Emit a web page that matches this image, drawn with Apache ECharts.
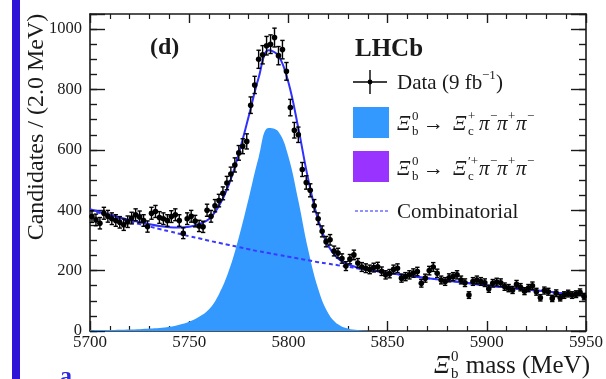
<!DOCTYPE html>
<html><head><meta charset="utf-8">
<script src="https://cdn.jsdelivr.net/npm/echarts@6/dist/echarts.min.js"></script>
<style>html,body{margin:0;padding:0;background:#fff;}#c{width:606px;height:379px;}</style>
</head><body><div id="c"></div>
<script>
// ---- data ----
const binStart = 5701;      // first bin centre (MeV)
const binWidth = 2;         // MeV
const dataCounts = [
 379,368,357,390,380,372,366,360,352,362,
 374,385,378,366,346,390,396,376,372,366,
 379,385,366,324,372,380,364,348,345,400,
 380,415,432,456,490,520,550,590,612,628,
 748,815,900,915,945,950,972,912,932,860,
 740,665,650,535,492,466,415,372,330,296,
 302,265,258,240,215,238,252,225,212,208,
 204,210,213,198,186,190,204,208,175,180,
 186,192,197,158,175,200,212,191,169,164,
 176,180,186,169,160,119,164,169,164,160,
 140,158,162,160,147,142,136,155,145,132,
 142,150,130,110,134,130,108,125,110,119,
 124,119,122,128,114
];
const curveStart = 5700, curveStep = 5;
const signalCurve = [
 2,3,3,4,5,6,8,10,14,21,
 31,47,72,122,200,310,440,575,672,660,
 578,432,268,140,60,22,8,3,1,0,
 0,0,0,0,0,0,0,0,0,0,
 0,0,0,0,0,0,0,0,0,0,0
];
const totalCurve = [
 403,394,385,376,368,361,354,348,344,343,
 345,354,371,414,485,588,711,839,930,912,
 824,672,502,368,283,240,221,210,203,198,
 193,188,184,179,175,171,167,163,159,155,
 151,147,144,140,137,134,131,127,124,121,118
];
const combCurve = [
 401,391,382,372,363,354,346,338,330,322,
 314,307,299,292,285,278,271,264,258,252,
 246,240,234,228,223,218,213,207,202,198,
 193,188,184,179,175,171,167,163,159,155,
 151,147,144,140,137,134,131,127,124,121,118
];
const xTicks = [5700, 5750, 5800, 5850, 5900, 5950];
const yTicks = [0, 200, 400, 600, 800, 1000];

// ---- build series data ----
const dataPts = dataCounts.map((v, i) => [binStart + i * binWidth, v, Math.sqrt(v)]);
const toCurve = arr => arr.map((v, i) => [curveStart + i * curveStep, v]);

const SERIF = 'Liberation Serif';
const ink = '#1a1a1a';
const chart = echarts.init(document.getElementById('c'), null, {renderer: 'canvas'});

function yAx(pos, interval, tickLen, labels, line) {
  return {
    type: 'value', position: pos, min: 0, max: 1050, interval: interval,
    axisLine: {show: line, lineStyle: {color: ink, width: 1.6}},
    axisTick: {show: true, inside: true, length: tickLen, lineStyle: {color: ink, width: 1.4}},
    axisLabel: {show: labels, fontFamily: SERIF, fontSize: 16.5, color: ink, margin: 8,
      formatter: v => (yTicks.indexOf(v) >= 0 ? String(v) : '')},
    splitLine: {show: false}
  };
}
function xAx(pos, tickLen, minorLen, labels) {
  return {
    type: 'value', position: pos, min: xTicks[0], max: xTicks[xTicks.length - 1], interval: 50,
    axisLine: {show: true, onZero: false, lineStyle: {color: ink, width: 1.6}},
    axisTick: {show: true, inside: true, length: tickLen, lineStyle: {color: ink, width: 1.4}},
    minorTick: {show: true, splitNumber: 5, length: minorLen, lineStyle: {color: ink, width: 1.2}},
    axisLabel: {show: labels, fontFamily: SERIF, fontSize: 17, color: ink, margin: 3,
      formatter: v => String(v)},
    splitLine: {show: false}
  };
}

const txt = (x, y, s, size, opts) => Object.assign({
  type: 'text', x: x, y: y, z: 100,
  style: Object.assign({text: s, fontFamily: SERIF, fontSize: size, fill: ink,
    textAlign: 'left', textVerticalAlign: 'middle'}, (opts && opts.style) || {})
}, opts && opts.el || {});
const it = {style: {fontStyle: 'italic'}};

function formula(y, supC) {
  const f = 21, s = 13;
  return [
    txt(397, y, 'Ξ', f, it),
    txt(412, y - 7, '0', s), txt(412, y + 8, 'b', s),
    txt(423, y, '→', f),
    txt(453, y, 'Ξ', f, it),
    txt(468, y - 7, supC, s), txt(468, y + 8, 'c', s),
    txt(479, y, 'π', f, it), txt(490, y - 7, '−', s),
    txt(497, y, 'π', f, it), txt(508, y - 7, '+', s),
    txt(516, y, 'π', f, it), txt(527, y - 7, '−', s)
  ];
}

const graphics = [
  {type: 'rect', shape: {x: 12, y: 0, width: 8, height: 379}, style: {fill: '#2e14d6'}, z: 100},
  txt(60, 377, 'a', 24, {style: {fill: '#2a2ae0', fontWeight: 'bold'}}),
  txt(150, 48, '(d)', 24, {style: {fontWeight: 'bold'}}),
  txt(355, 50, 'LHCb', 25, {style: {fontWeight: 'bold'}}),
  // data legend marker
  {type: 'line', shape: {x1: 353, y1: 82, x2: 387, y2: 82}, style: {stroke: '#000', lineWidth: 1.4}, z: 100},
  {type: 'line', shape: {x1: 370, y1: 70, x2: 370, y2: 94}, style: {stroke: '#000', lineWidth: 1.4}, z: 100},
  {type: 'circle', shape: {cx: 370, cy: 82, r: 2.4}, style: {fill: '#000'}, z: 100},
  txt(397, 83, 'Data (9 fb', 21),
  txt(482, 76, '−1', 13),
  txt(496, 83, ')', 21),
  // signal boxes
  {type: 'rect', shape: {x: 353, y: 107, width: 36, height: 31}, style: {fill: '#3399ff'}, z: 100},
  {type: 'rect', shape: {x: 353, y: 151, width: 36, height: 31}, style: {fill: '#9933ff'}, z: 100},
  ...formula(124, '+'),
  ...formula(169, '′+'),
  // combinatorial legend
  {type: 'line', shape: {x1: 355, y1: 211, x2: 389, y2: 211}, style: {stroke: '#6f6fff', lineWidth: 1.5, lineDash: [3, 2]}, z: 100},
  txt(397, 212, 'Combinatorial', 21),
  // y title
  {type: 'text', x: 37, y: 127, rotation: Math.PI / 2, z: 100,
   style: {text: 'Candidates / (2.0 MeV)', fontFamily: SERIF, fontSize: 24, fill: ink,
     textAlign: 'center', textVerticalAlign: 'middle'}},
  // x title
  {type: 'text', x: 590, y: 366, z: 100,
   style: {text: 'mass (MeV)', fontFamily: SERIF, fontSize: 25, fill: ink, textAlign: 'right', textVerticalAlign: 'middle'}},
  txt(434, 366, 'Ξ', 25, it),
  txt(451, 357, '0', 15), txt(451, 374, 'b', 15)
];

chart.setOption({
  animation: false,
  backgroundColor: '#fff',
  grid: {left: 90, right: 16, top: 14, bottom: 48, containLabel: false},
  xAxis: [xAx('bottom', 10, 5, true), xAx('top', 9, 5, false)],
  yAxis: [yAx('left', 200, 15, true, true), yAx('left', 50, 7, false, false),
          yAx('right', 200, 15, false, true), yAx('right', 50, 7, false, false)],
  graphic: graphics,
  series: [
    {type: 'line', name: 'signal', data: toCurve(signalCurve), smooth: 0.4,
     showSymbol: false, lineStyle: {width: 0}, areaStyle: {color: '#3399ff', opacity: 1}, z: 1},
    {type: 'line', name: 'comb', data: toCurve(combCurve), smooth: 0.5, showSymbol: false,
     lineStyle: {color: '#3a3aff', width: 2, type: [4, 3]}, z: 2},
    {type: 'line', name: 'total', data: toCurve(totalCurve), smooth: 0.4, showSymbol: false,
     lineStyle: {color: '#3030ff', width: 2}, z: 3},
    {type: 'custom', name: 'data', data: dataPts, z: 5,
     renderItem: function (params, api) {
       const m = api.value(0), v = api.value(1), e = api.value(2);
       const c = api.coord([m, v]);
       const t = api.coord([m, v + e]), b = api.coord([m, v - e]);
       const l = api.coord([m - binWidth / 2, v]), r = api.coord([m + binWidth / 2, v]);
       const st = {stroke: '#000', lineWidth: 1.4};
       return {type: 'group', children: [
         {type: 'line', shape: {x1: c[0], y1: t[1], x2: c[0], y2: b[1]}, style: st},
         {type: 'line', shape: {x1: c[0] - 2.2, y1: t[1], x2: c[0] + 2.2, y2: t[1]}, style: st},
         {type: 'line', shape: {x1: c[0] - 2.2, y1: b[1], x2: c[0] + 2.2, y2: b[1]}, style: st},
         {type: 'line', shape: {x1: l[0], y1: c[1], x2: r[0], y2: c[1]}, style: st},
         {type: 'circle', shape: {cx: c[0], cy: c[1], r: 2.8}, style: {fill: '#000'}}
       ]};
     }}
  ]
});
</script></body></html>
